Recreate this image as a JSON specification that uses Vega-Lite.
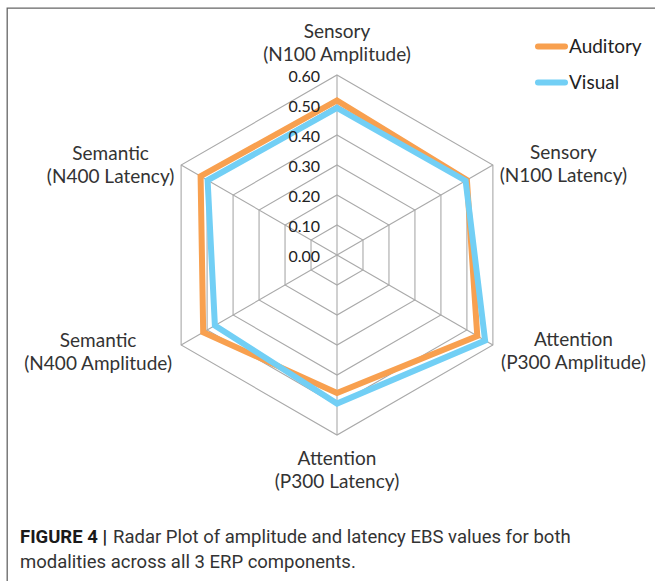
{
  "$schema": "https://vega.github.io/schema/vega-lite/v6.json",
  "width": 648,
  "height": 573,
  "autosize": {"type": "none"},
  "padding": {"left": 7, "top": 8, "right": 0, "bottom": 0},
  "background": "white",
  "config": {"view": {"stroke": "#666666", "strokeWidth": 1.3, "strokeDash": [648, 1221, 573, 0]}, "font": "Lato"},
  "datasets": {
    "series": [
      {"axis": "Sensory (N100 Amplitude)", "idx": 0, "modality": "Auditory", "value": 0.515},
      {"axis": "Sensory (N100 Latency)", "idx": 1, "modality": "Auditory", "value": 0.50},
      {"axis": "Attention (P300 Amplitude)", "idx": 2, "modality": "Auditory", "value": 0.54},
      {"axis": "Attention (P300 Latency)", "idx": 3, "modality": "Auditory", "value": 0.46},
      {"axis": "Semantic (N400 Amplitude)", "idx": 4, "modality": "Auditory", "value": 0.515},
      {"axis": "Semantic (N400 Latency)", "idx": 5, "modality": "Auditory", "value": 0.525},
      {"axis": "Sensory (N100 Amplitude)", "idx": 0, "modality": "Visual", "value": 0.49},
      {"axis": "Sensory (N100 Latency)", "idx": 1, "modality": "Visual", "value": 0.495},
      {"axis": "Attention (P300 Amplitude)", "idx": 2, "modality": "Visual", "value": 0.57},
      {"axis": "Attention (P300 Latency)", "idx": 3, "modality": "Visual", "value": 0.495},
      {"axis": "Semantic (N400 Amplitude)", "idx": 4, "modality": "Visual", "value": 0.47},
      {"axis": "Semantic (N400 Latency)", "idx": 5, "modality": "Visual", "value": 0.498}
    ],
    "rings": [
      {"level": 0.1, "idx": [0, 1, 2, 3, 4, 5]},
      {"level": 0.2, "idx": [0, 1, 2, 3, 4, 5]},
      {"level": 0.3, "idx": [0, 1, 2, 3, 4, 5]},
      {"level": 0.4, "idx": [0, 1, 2, 3, 4, 5]},
      {"level": 0.5, "idx": [0, 1, 2, 3, 4, 5]},
      {"level": 0.6, "idx": [0, 1, 2, 3, 4, 5]}
    ],
    "axes": [
      {"idx": 0, "label": "Sensory\n(N100 Amplitude)"},
      {"idx": 1, "label": "Sensory\n(N100 Latency)"},
      {"idx": 2, "label": "Attention\n(P300 Amplitude)"},
      {"idx": 3, "label": "Attention\n(P300 Latency)"},
      {"idx": 4, "label": "Semantic\n(N400 Amplitude)"},
      {"idx": 5, "label": "Semantic\n(N400 Latency)"}
    ],
    "ticks": [
      {"tick": 0.0}, {"tick": 0.1}, {"tick": 0.2}, {"tick": 0.3},
      {"tick": 0.4}, {"tick": 0.5}, {"tick": 0.6}
    ],
    "caption": [
      {"part": "bold", "text": "FIGURE 4 |"},
      {"part": "line1", "text": "Radar Plot of amplitude and latency EBS values for both"},
      {"part": "line2", "text": "modalities across all 3 ERP components."}
    ]
  },
  "encoding": {
    "x": {"field": "x", "type": "quantitative", "scale": {"domain": [-1.1, 1.06], "nice": false, "zero": false}, "axis": null},
    "y": {"field": "y", "type": "quantitative", "scale": {"domain": [-1.086667, 0.823333], "nice": false, "zero": false}, "axis": null}
  },
  "layer": [
    {
      "data": {"name": "rings"},
      "transform": [
        {"flatten": ["idx"]},
        {"calculate": "datum.level * sin(datum.idx * PI / 3)", "as": "x"},
        {"calculate": "datum.level * cos(datum.idx * PI / 3)", "as": "y"}
      ],
      "mark": {"type": "line", "interpolate": "linear-closed", "stroke": "#A9A9A9", "strokeWidth": 1.1},
      "encoding": {
        "detail": {"field": "level", "type": "nominal"},
        "order": {"field": "idx", "type": "quantitative"}
      }
    },
    {
      "data": {"name": "axes"},
      "transform": [
        {"calculate": "0.6 * sin(datum.idx * PI / 3)", "as": "x"},
        {"calculate": "0.6 * cos(datum.idx * PI / 3)", "as": "y"},
        {"calculate": "0", "as": "x0"},
        {"calculate": "0", "as": "y0"}
      ],
      "mark": {"type": "rule", "stroke": "#A9A9A9", "strokeWidth": 1.1},
      "encoding": {
        "x2": {"field": "x0"},
        "y2": {"field": "y0"}
      }
    },
    {
      "data": {"name": "series"},
      "transform": [
        {"calculate": "datum.value * sin(datum.idx * PI / 3)", "as": "x"},
        {"calculate": "datum.value * cos(datum.idx * PI / 3)", "as": "y"}
      ],
      "mark": {"type": "line", "interpolate": "linear-closed", "strokeWidth": 6, "strokeJoin": "miter"},
      "encoding": {
        "color": {
          "field": "modality", "type": "nominal",
          "scale": {"domain": ["Auditory", "Visual"], "range": ["#F8A04F", "#72CFF5"]},
          "legend": {
            "orient": "none", "legendX": 528, "legendY": 22, "title": null,
            "symbolType": "stroke", "symbolSize": 729, "symbolStrokeWidth": 6,
            "labelFontSize": 19, "labelFont": "Lato", "labelColor": "#222222",
            "rowPadding": 7, "labelOffset": 1, "padding": 0,
            "encode": {"symbols": {"update": {"strokeCap": {"value": "round"}}}}
          }
        },
        "order": {"field": "idx", "type": "quantitative"}
      }
    },
    {
      "data": {"name": "ticks"},
      "transform": [
        {"calculate": "0", "as": "x"},
        {"calculate": "datum.tick", "as": "y"}
      ],
      "mark": {"type": "text", "align": "right", "baseline": "middle", "dx": -17, "dy": 2, "fontSize": 16, "font": "Lato", "color": "#222222"},
      "encoding": {"text": {"field": "tick", "type": "quantitative", "format": ".2f"}}
    },
    {
      "data": {"name": "axes"},
      "transform": [
        {"filter": "datum.idx == 0"},
        {"calculate": "0.6 * sin(datum.idx * PI / 3)", "as": "x"},
        {"calculate": "0.6 * cos(datum.idx * PI / 3)", "as": "y"}
      ],
      "mark": {"type": "text", "align": "center", "baseline": "middle", "lineBreak": "\n", "lineHeight": 23, "dx": 0, "dy": -43, "fontSize": 19, "font": "Lato", "color": "#333333"},
      "encoding": {"text": {"field": "label", "type": "nominal"}}
    },
    {
      "data": {"name": "axes"},
      "transform": [
        {"filter": "datum.idx == 1"},
        {"calculate": "0.6 * sin(datum.idx * PI / 3)", "as": "x"},
        {"calculate": "0.6 * cos(datum.idx * PI / 3)", "as": "y"}
      ],
      "mark": {"type": "text", "align": "center", "baseline": "middle", "lineBreak": "\n", "lineHeight": 23, "dx": 70.5, "dy": -11.5, "fontSize": 19, "font": "Lato", "color": "#333333"},
      "encoding": {"text": {"field": "label", "type": "nominal"}}
    },
    {
      "data": {"name": "axes"},
      "transform": [
        {"filter": "datum.idx == 2"},
        {"calculate": "0.6 * sin(datum.idx * PI / 3)", "as": "x"},
        {"calculate": "0.6 * cos(datum.idx * PI / 3)", "as": "y"}
      ],
      "mark": {"type": "text", "align": "center", "baseline": "middle", "lineBreak": "\n", "lineHeight": 23, "dx": 80.5, "dy": -5, "fontSize": 19, "font": "Lato", "color": "#333333"},
      "encoding": {"text": {"field": "label", "type": "nominal"}}
    },
    {
      "data": {"name": "axes"},
      "transform": [
        {"filter": "datum.idx == 3"},
        {"calculate": "0.6 * sin(datum.idx * PI / 3)", "as": "x"},
        {"calculate": "0.6 * cos(datum.idx * PI / 3)", "as": "y"}
      ],
      "mark": {"type": "text", "align": "center", "baseline": "middle", "lineBreak": "\n", "lineHeight": 23, "dx": 0, "dy": 24, "fontSize": 19, "font": "Lato", "color": "#333333"},
      "encoding": {"text": {"field": "label", "type": "nominal"}}
    },
    {
      "data": {"name": "axes"},
      "transform": [
        {"filter": "datum.idx == 4"},
        {"calculate": "0.6 * sin(datum.idx * PI / 3)", "as": "x"},
        {"calculate": "0.6 * cos(datum.idx * PI / 3)", "as": "y"}
      ],
      "mark": {"type": "text", "align": "center", "baseline": "middle", "lineBreak": "\n", "lineHeight": 23, "dx": -83, "dy": -4, "fontSize": 19, "font": "Lato", "color": "#333333"},
      "encoding": {"text": {"field": "label", "type": "nominal"}}
    },
    {
      "data": {"name": "axes"},
      "transform": [
        {"filter": "datum.idx == 5"},
        {"calculate": "0.6 * sin(datum.idx * PI / 3)", "as": "x"},
        {"calculate": "0.6 * cos(datum.idx * PI / 3)", "as": "y"}
      ],
      "mark": {"type": "text", "align": "center", "baseline": "middle", "lineBreak": "\n", "lineHeight": 23, "dx": -70.5, "dy": -11, "fontSize": 19, "font": "Lato", "color": "#333333"},
      "encoding": {"text": {"field": "label", "type": "nominal"}}
    },
    {
      "data": {"name": "caption"},
      "transform": [
        {"filter": "datum.part == 'bold'"},
        {"calculate": "-1.0567", "as": "x"},
        {"calculate": "-0.94", "as": "y"}
      ],
      "mark": {"type": "text", "align": "left", "baseline": "middle", "fontSize": 18.5, "fontWeight": "bold", "font": "Roboto", "color": "#1a1a1a"},
      "encoding": {"text": {"field": "text", "type": "nominal"}}
    },
    {
      "data": {"name": "caption"},
      "transform": [
        {"filter": "datum.part == 'line1'"},
        {"calculate": "-1.0567", "as": "x"},
        {"calculate": "-0.94", "as": "y"}
      ],
      "mark": {"type": "text", "align": "left", "baseline": "middle", "dx": 93, "fontSize": 18.5, "font": "Roboto", "color": "#333333"},
      "encoding": {"text": {"field": "text", "type": "nominal"}}
    },
    {
      "data": {"name": "caption"},
      "transform": [
        {"filter": "datum.part == 'line2'"},
        {"calculate": "-1.0567", "as": "x"},
        {"calculate": "-1.025", "as": "y"}
      ],
      "mark": {"type": "text", "align": "left", "baseline": "middle", "fontSize": 18.5, "font": "Roboto", "color": "#333333"},
      "encoding": {"text": {"field": "text", "type": "nominal"}}
    }
  ]
}
